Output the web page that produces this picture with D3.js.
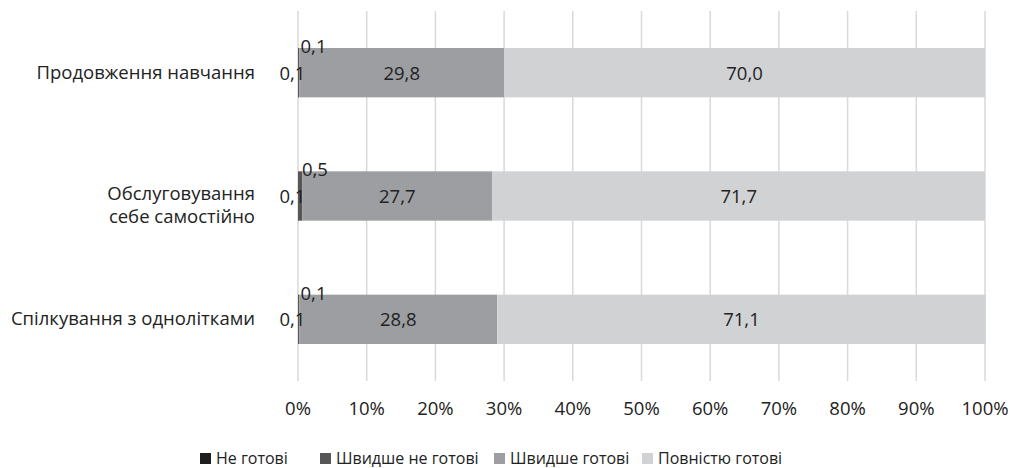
<!DOCTYPE html>
<html>
<head>
<meta charset="utf-8">
<script src="https://cdn.jsdelivr.net/npm/d3@7"></script>
<style>
  body { margin: 0; background: #fff; }
  text { font-family: "Open Sans", "Noto Sans", sans-serif; fill: #222; }
</style>
</head>
<body>
<div id="graph"></div>
<script>
var categories = [["Продовження навчання"], ["Обслуговування", "себе самостійно"], ["Спілкування з однолітками"]]
var series = ["Не готові", "Швидше не готові", "Швидше готові", "Повністю готові"]
var values = [
    [0.1, 0.1, 0.1],
    [0.1, 0.5, 0.1],
    [29.8, 27.7, 28.8],
    [70.0, 71.7, 71.1]
]
var ticks = [0, 10, 20, 30, 40, 50, 60, 70, 80, 90, 100]
var colors = ["#1e1e1e", "#565656", "#9d9ea1", "#d1d2d4"]

var width = 1018, height = 468
var margin = {top: 11, left: 298, right: 33, bottom: 87}
var chartWidth = width - margin.left - margin.right
var chartHeight = height - margin.top - margin.bottom
var fs = "18.5px"

var svg = d3.select("#graph").append("svg").attr("width", width).attr("height", height)
var chart = svg.append("g").attr("transform", "translate(" + [margin.left, margin.top] + ")")

var x = d3.scaleLinear().domain([0, 100]).range([0, chartWidth])
var y = d3.scaleBand().domain(d3.range(categories.length)).range([0, chartHeight])
    .paddingInner(0.6).paddingOuter(0.3)

var fmt = function(v) { return d3.format(".1f")(v).replace(".", ",") }

// gridlines
chart.append("g").selectAll("line").data(ticks).enter().append("line")
    .attr("x1", function(d) { return x(d) }).attr("x2", function(d) { return x(d) })
    .attr("y1", 0).attr("y2", chartHeight)
    .attr("stroke", "#d9d9d9").attr("stroke-width", 1.5)

// tick labels
chart.append("g").selectAll("text").data(ticks).enter().append("text")
    .attr("x", function(d) { return x(d) }).attr("y", chartHeight + 34)
    .attr("text-anchor", "middle").style("font-size", fs)
    .text(function(d) { return d + "%" })

// stacked bars
var rows = categories.map(function(c, i) {
    var o = {i: i}
    series.forEach(function(s, j) { o[s] = values[j][i] })
    return o
})
var stack = d3.stack().keys(series)(rows)

chart.selectAll(".layer").data(stack).enter().append("g")
    .attr("fill", function(d, j) { return colors[j] })
    .selectAll("rect").data(function(d) { return d }).enter().append("rect")
    .attr("x", function(d) { return x(d[0]) })
    .attr("width", function(d) { return x(d[1]) - x(d[0]) })
    .attr("y", function(d) { return y(d.data.i) })
    .attr("height", y.bandwidth())

// value labels (drawn after all bars)
chart.selectAll(".labels").data(stack).enter().append("g")
    .each(function(layer, j) {
        d3.select(this).selectAll("text").data(layer).enter().append("text")
            .style("font-size", fs)
            .attr("text-anchor", j === 0 ? "end" : (j === 1 ? "start" : "middle"))
            .attr("x", function(d) {
                var m = x((d[0] + d[1]) / 2)
                if (j === 0) return m + 7
                if (j === 1) return m + 1.5
                return m
            })
            .attr("y", function(d) {
                if (j === 1) return y(d.data.i) + 5
                return y(d.data.i) + y.bandwidth() / 2 + 7
            })
            .text(function(d) { return fmt(d[1] - d[0]) })
    })

// category labels
var cat = chart.append("g").selectAll("text").data(categories).enter().append("text")
    .attr("text-anchor", "end").style("font-size", fs)
    .attr("y", function(d, i) { return y(i) + y.bandwidth() / 2 + (d.length > 1 ? 4 : 6) })
cat.selectAll("tspan").data(function(d) { return d }).enter().append("tspan")
    .attr("x", -43).attr("dy", function(d, k) { return k === 0 ? 0 : 23 })
    .text(function(d) { return d })

// legend
var legendX = [200, 320, 494, 642]
var legend = svg.append("g").selectAll("g").data(series).enter().append("g")
    .attr("transform", function(d, j) { return "translate(" + [legendX[j], 464] + ")" })
legend.append("rect").attr("x", 0).attr("y", -11).attr("width", 11).attr("height", 11)
    .attr("fill", function(d, j) { return colors[j] })
legend.append("text").attr("x", 16).attr("y", 0).style("font-size", "16px")
    .text(function(d) { return d })
</script>
</body>
</html>
